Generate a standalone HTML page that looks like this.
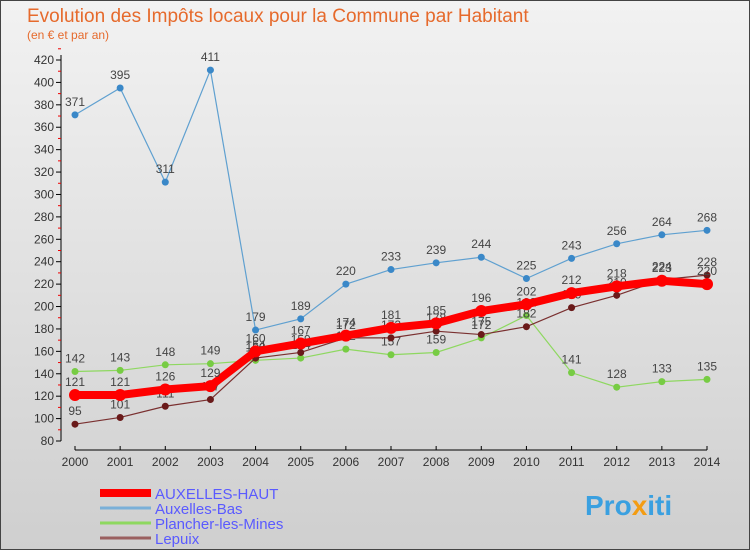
<!DOCTYPE html>
<html><head><meta charset="utf-8"><style>
body{margin:0;width:750px;height:550px;overflow:hidden;font-family:"Liberation Sans",sans-serif}
</style></head><body>
<svg width="750" height="550" xmlns="http://www.w3.org/2000/svg">
<defs><linearGradient id="bg" x1="0" y1="0" x2="0" y2="1"><stop offset="0" stop-color="#f2f2f2"/><stop offset="1" stop-color="#cfcfcf"/></linearGradient></defs>
<rect x="0.5" y="0.5" width="749" height="549" fill="url(#bg)" stroke="#444"/>
<text x="27" y="22" font-size="19" fill="#e66a2c">Evolution des Impôts locaux pour la Commune par Habitant</text>
<text x="27" y="39" font-size="12" fill="#e66a2c">(en € et par an)</text>
<g id="axes"></g><g id="series"></g><g id="legend"></g>
<text x="585" y="515" font-size="28" font-weight="bold" fill="#3aa0e0">Pro<tspan fill="#f39c12">x</tspan>iti</text>
</svg>
<script>
const years=[2000,2001,2002,2003,2004,2005,2006,2007,2008,2009,2010,2011,2012,2013,2014];
const yTicks=[80,100,120,140,160,180,200,220,240,260,280,300,320,340,360,380,400,420];
const auxHaut=[121,121,126,129,160,167,174,181,185,196,202,212,218,223,220];
const auxBas=[371,395,311,411,179,189,220,233,239,244,225,243,256,264,268];
const plancher=[142,143,148,149,152,154,162,157,159,172,192,141,128,133,135];
const lepuix=[95,101,111,117,154,159,172,172,178,175,182,199,210,224,228];
const NS="http://www.w3.org/2000/svg";
function X(i){return 75+i*(707-75)/(years.length-1);}
function Y(v){return 441-(v-80)*(441-60)/340;}
function mk(tag,attrs,parent){const e=document.createElementNS(NS,tag);for(const k in attrs)e.setAttribute(k,attrs[k]);parent.appendChild(e);return e;}
const ax=document.getElementById('axes');
let l=mk('line',{x1:61,y1:55,x2:61,y2:441,stroke:'#000'},ax);


yTicks.forEach(t=>{
 mk('line',{x1:56,x2:61,y1:Y(t),y2:Y(t),stroke:'#000'},ax);
 mk('line',{x1:58,x2:61,y1:Y(t+10),y2:Y(t+10),stroke:'#e00'},ax);
 const tx=mk('text',{x:54,y:Y(t)+4,'font-size':12,fill:'#333','text-anchor':'end'},ax);
 tx.textContent=t;
 
 
});
l=mk('line',{x1:75,y1:450,x2:707,y2:450,stroke:'#000'},ax);


years.forEach((y,i)=>{
 mk('line',{x1:X(i),x2:X(i),y1:446,y2:450,stroke:'#000'},ax);
 const tx=mk('text',{x:X(i),y:466,'font-size':12,fill:'#333','text-anchor':'middle'},ax);
 tx.textContent=y;
 
 
});
const sg=document.getElementById('series');
function draw(data,name,color,dot,w,r){
 const g=mk('g',{},sg);
 
 
 const p=mk('polyline',{points:data.map((v,i)=>X(i)+','+Y(v)).join(' '),fill:'none',stroke:color,'stroke-width':w},g);
 
 
 data.forEach((v,i)=>{
  const c=mk('circle',{cx:X(i),cy:Y(v),r:r,fill:dot},g);
  
  
  const t=mk('text',{x:X(i),y:Y(v)-9,'font-size':12,fill:'#444','text-anchor':'middle'},g);
  t.textContent=v;
  
  
 });
}
draw(auxBas,'auxelles-bas','#5fa0d0','#3a88c8',1.2,3.5);
draw(plancher,'plancher-les-mines','#8ed860','#77cc44',1.2,3.5);
draw(lepuix,'lepuix','#7a3030','#6a1a1a',1.2,3.5);
draw(auxHaut,'auxelles-haut','#ff0000','#ff0000',8,6);
const lg=document.getElementById('legend');
[['AUXELLES-HAUT','#ff0000',8],['Auxelles-Bas','#7ab0d8',3],['Plancher-les-Mines','#8ed860',3],['Lepuix','#9a6060',3]].forEach((e,i)=>{
 const y=493+i*15;
 const g=mk('g',{},lg);
 
 
 mk('line',{x1:100,x2:151,y1:y,y2:y,stroke:e[1],'stroke-width':e[2]},g);
 const t=mk('text',{x:155,y:y+6,'font-size':15,fill:'#5a5aff'},g);
 t.textContent=e[0];
 
 
});
</script>
</body></html>
